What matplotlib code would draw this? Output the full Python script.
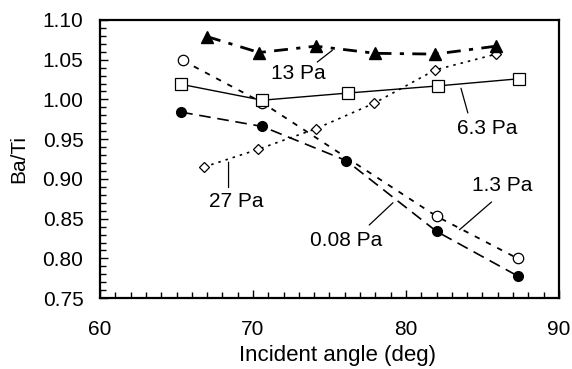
import matplotlib.pyplot as plt
import numpy as np
from matplotlib.ticker import MultipleLocator

plt.rcParams['font.family'] = ['Liberation Sans', 'DejaVu Sans']

# Ba/Ti ratio vs incident angle for several sputtering pressures
angle_13 = [67.0, 70.4, 74.1, 78.0, 81.9, 85.9]
ratio_13 = [1.079, 1.059, 1.067, 1.058, 1.057, 1.067]

angle_13p = [65.4, 70.6, 82.0, 87.3]
ratio_13p = [1.049, 0.996, 0.853, 0.800]

angle_008 = [65.3, 70.6, 76.1, 82.0, 87.3]
ratio_008 = [0.984, 0.966, 0.923, 0.834, 0.778]

angle_63 = [65.3, 70.6, 76.2, 82.1, 87.4]
ratio_63 = [1.019, 0.999, 1.008, 1.017, 1.026]

angle_27 = [66.8, 70.3, 74.1, 77.9, 81.9, 85.9]
ratio_27 = [0.915, 0.937, 0.963, 0.995, 1.037, 1.057]

fig = plt.figure(figsize=(5.72, 3.69), dpi=100)
ax = fig.add_axes([0.175, 0.192, 0.802, 0.754])

ax.plot(angle_63, ratio_63, '-', color='black', lw=1.0, marker='s', ms=8,
        mfc='white', mec='black', mew=0.9, zorder=3)
ax.plot(angle_27, ratio_27, color='black', lw=1.2, ls=(0, (1.5, 3)), marker='D',
        ms=5.5, mfc='white', mec='black', mew=0.9, zorder=3)
ax.plot(angle_13p, ratio_13p, color='black', lw=1.3, ls=(0, (3, 4)), marker='o',
        ms=7.5, mfc='white', mec='black', mew=0.9, zorder=2)
ax.plot(angle_008, ratio_008, color='black', lw=1.2, ls=(0, (7, 4)), marker='o',
        ms=7, mfc='black', mec='black', zorder=3)
ax.plot(angle_13, ratio_13, color='black', lw=2.0, ls=(0, (5, 3, 1.5, 3)),
        marker='^', ms=8, mfc='black', mec='black', zorder=4)

fs = 15
line = dict(arrowstyle='-', color='black', lw=0.9, shrinkA=0, shrinkB=0)

# labels with leader lines
ax.text(71.2, 1.033, '13 Pa', fontsize=fs, va='center', ha='left')
ax.annotate('', xy=(75.2, 1.062), xytext=(74.2, 1.047), arrowprops=line)

ax.text(85.3, 0.964, '6.3 Pa', fontsize=fs, va='center', ha='center')
ax.annotate('', xy=(83.6, 1.014), xytext=(84.05, 0.983), arrowprops=line)

ax.text(68.9, 0.872, '27 Pa', fontsize=fs, va='center', ha='center')
ax.annotate('', xy=(68.4, 0.921), xytext=(68.4, 0.889), arrowprops=line)

ax.text(86.3, 0.892, '1.3 Pa', fontsize=fs, va='center', ha='center')
ax.annotate('', xy=(83.5, 0.836), xytext=(85.6, 0.871), arrowprops=line)

ax.text(76.1, 0.822, '0.08 Pa', fontsize=fs, va='center', ha='center')
ax.annotate('', xy=(79.15, 0.870), xytext=(77.6, 0.842), arrowprops=line)

ax.set_xlim(60, 90)
ax.set_ylim(0.75, 1.10)
ax.xaxis.set_major_locator(MultipleLocator(10))
ax.xaxis.set_minor_locator(MultipleLocator(1))
ax.yaxis.set_major_locator(MultipleLocator(0.05))
ax.yaxis.set_minor_locator(MultipleLocator(0.01))
ax.yaxis.set_major_formatter(plt.FormatStrFormatter('%.2f'))
ax.tick_params(which='both', direction='in', top=False, right=False,
               width=1.0, labelsize=fs)
ax.tick_params(axis='x', which='major', length=6, pad=16)
ax.tick_params(axis='x', which='minor', length=4)
ax.tick_params(axis='y', which='major', length=6, pad=12)
ax.tick_params(axis='y', which='minor', length=4)
for sp in ax.spines.values():
    sp.set_linewidth(1.6)

fig.text(0.59, 0.036, 'Incident angle (deg)', fontsize=16,
         ha='center', va='center')
ax.set_ylabel('Ba/Ti', fontsize=fs, labelpad=10)

fig.savefig('out.png', dpi=100)
